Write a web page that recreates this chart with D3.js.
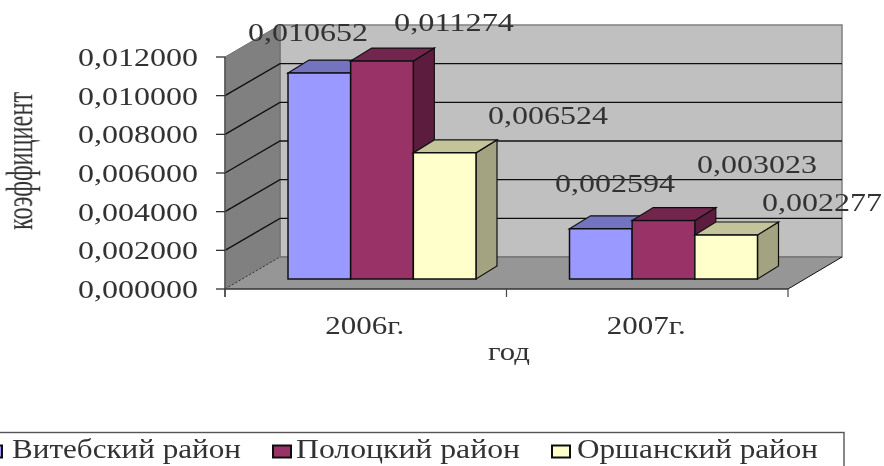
<!DOCTYPE html>
<html><head><meta charset="utf-8">
<script src="https://cdn.jsdelivr.net/npm/d3@7"></script>
<style>html,body{margin:0;padding:0;background:#fff;overflow:hidden}svg{display:block}text{font-family:"Liberation Serif",serif;fill:#333}</style>
</head><body><svg id="c" width="884" height="466"></svg>
<script>
const categories = ["2006г.","2007г."];
const seriesNames = ["Витебский район","Полоцкий район","Оршанский район"];
const vitebsk = [0.010652,0.002594];
const polotsk = [0.011274,0.003023];
const orsha = [0.006524,0.002277];
const seriesValues = [vitebsk,polotsk,orsha];
const tickValues = [0,0.002,0.004,0.006,0.008,0.010,0.012];
const colors = ["#9999ff","#993366","#ffffcc"];
const topColors = ["#7373bf","#73264d","#c4c49a"];
const sideColors = ["#5c5c99","#5c1f3d","#a3a382"];

const fmt = v => v.toFixed(6).replace(".",",");
const svg = d3.select("#c");
svg.append("defs").append("filter").attr("id","soft").append("feGaussianBlur").attr("stdDeviation",0.45);
const root = svg.append("g").attr("filter","url(#soft)");

// 3D box
const L=225,R=788,B=289,T=57,dx=55,dy=-32;
const y = d3.scaleLinear().domain([0,0.012]).range([B,T]);
const yBar = d3.scaleLinear().domain([0,0.012]).range([279,47]);
const x0 = d3.scaleBand().domain(categories).range([L,R]);
const x1 = d3.scaleBand().domain(d3.range(3)).range([63,251]);
const poly=(pts,fill,stroke,sw)=>root.append("polygon").attr("points",pts.map(p=>p.join(",")).join(" ")).attr("fill",fill).attr("stroke",stroke||"none").attr("stroke-width",sw||0);

poly([[L+dx,B+dy],[R+dx-1,B+dy],[R+dx-1,T+dy],[L+dx,T+dy]],"#c0c0c0","#808080",1.5);
poly([[L,B],[L+dx,B+dy],[L+dx,T+dy],[L,T]],"#808080","#6e6e6e",1);
poly([[L,B],[L+dx,B+dy],[R+dx-1,B+dy],[R,B]],"#969696","none");
tickValues.slice(1,-1).forEach(v=>{
  root.append("path").attr("d",`M${L},${y(v)}L${L+dx},${y(v)+dy}L${R+dx-1},${y(v)+dy}`).attr("fill","none").attr("stroke","#111").attr("stroke-width",1.4);
});
root.append("line").attr("x1",L).attr("y1",B).attr("x2",L+dx).attr("y2",B+dy).attr("stroke","#333").attr("stroke-dasharray","2,2");
root.append("line").attr("x1",L+dx).attr("y1",B+dy).attr("x2",R+dx-1).attr("y2",B+dy).attr("stroke","#666");
root.append("line").attr("x1",R).attr("y1",B).attr("x2",R+dx-1).attr("y2",B+dy).attr("stroke","#111");
root.append("line").attr("x1",L).attr("y1",B).attr("x2",R).attr("y2",B).attr("stroke","#333").attr("stroke-width",1.5);
root.append("line").attr("x1",L).attr("y1",B+8).attr("x2",L).attr("y2",T).attr("stroke","#555").attr("stroke-width",1.5);

// ticks
tickValues.forEach(v=>{
  root.append("line").attr("x1",L-9).attr("x2",L).attr("y1",y(v)).attr("y2",y(v)).attr("stroke","#222").attr("stroke-width",1.2);
});
[L,(L+R)/2,R].forEach(xx=>root.append("line").attr("x1",xx).attr("x2",xx).attr("y1",B).attr("y2",B+8).attr("stroke","#444").attr("stroke-width",1.2));

// horizontally stretched serif text
const wide=(s,x,yy,w,anchor,size)=>root.append("text").attr("x",x).attr("y",yy).attr("font-size",size||25)
  .attr("text-anchor",anchor||"start").attr("textLength",w).attr("lengthAdjust","spacingAndGlyphs").text(s);
tickValues.forEach(v=>wide(fmt(v),78,y(v)+9,120));

// bars
const ddx=21, ddy=-13;
categories.forEach(c=>{
  seriesValues.forEach((vals,si)=>{
    const v=vals[categories.indexOf(c)], a=x0(c)+x1(si), b=a+x1.bandwidth(), t=yBar(v), bot=yBar(0);
    poly([[b,t],[b+ddx,t+ddy],[b+ddx,bot+ddy],[b,bot]],sideColors[si],"#111",1.2);
    poly([[a,t],[a+ddx,t+ddy],[b+ddx,t+ddy],[b,t]],topColors[si],"#111",1.2);
    poly([[a,t],[b,t],[b,bot],[a,bot]],colors[si],"#111",1.5);
  });
});

// data labels
const labelX=[[248,394,488],[555,697,762]], labelY=[[41,31,124],[192,173,211]];
categories.forEach((c,ci)=>seriesValues.forEach((vals,si)=>wide(fmt(vals[ci]),labelX[ci][si],labelY[ci][si],120)));

// axis labels
categories.forEach(c=>wide(c,x0(c)+x0.bandwidth()/2-1,334,79,"middle"));
wide("год",488,360,42);
root.append("text").attr("transform","translate(32,230) scale(1.42,1) rotate(-90)").attr("font-size",26).attr("textLength",138).attr("lengthAdjust","spacingAndGlyphs").text("коэффициент");

// legend
root.append("rect").attr("x",-5).attr("y",432.5).attr("width",849).attr("height",50).attr("fill","#fff").attr("stroke","#555").attr("stroke-width",1.4);
const legX=[-16,273,552], legT=[12,296,577], legW=[229,224,241];
seriesNames.forEach((n,i)=>{
  root.append("rect").attr("x",legX[i]).attr("y",445.5).attr("width",18).attr("height",12).attr("fill",colors[i]).attr("stroke","#111").attr("stroke-width",2);
  wide(n,legT[i],458,legW[i],"start",27);
});
</script></body></html>
